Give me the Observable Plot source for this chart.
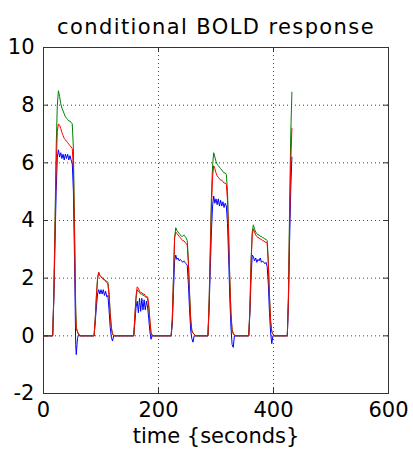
<!DOCTYPE html>
<html><head><meta charset="utf-8">
<script src="https://cdn.jsdelivr.net/npm/d3@7"></script>
<script src="https://cdn.jsdelivr.net/npm/@observablehq/plot@0.6"></script>
<style>body{margin:0;background:#fff}</style>
</head><body><div id="chart"></div>
<script>
// time points (seconds)
const time = [0,16,18,20,22,24,26,28,30,32,34,36,38,40,42,44,46,48,50,52,54,56,57,59,61,64,
  88,90,92,94,96,98,100,102,104,106,108,110,112,114,116,118,120,122,124,
  157,159,161,163,165,167,169,171,173,175,177,179,181,183,185,187,189,191,
  222,224,226,228,230,232,234,236,238,240,242,244,246,248,250,252,254,256,258,260,262,265,
  286,288,290,292,294,296,298,300,302,304,306,308,310,312,314,316,318,320,322,324,326,328,330,332,335,
  357,359,361,363,365,367,369,371,373,375,377,379,381,383,385,387,389,391,393,395,397,399,402,
  424,426,428,430,432];
const green = [0,0,1.5,4.0,6.5,8.0,8.5,8.3,8.05,7.9,7.8,7.7,7.6,7.55,7.5,7.45,7.45,7.4,7.35,6.5,3.8,1.0,0.3,0.15,0.05,0,
  0,0.6,1.4,2.0,2.2,2.1,2.05,2.0,2.0,1.95,1.9,1.9,1.85,1.5,0.8,0.3,0.08,0.02,0,
  0,0.7,1.3,1.6,1.55,1.5,1.45,1.45,1.4,1.4,1.35,1.35,1.3,1.0,0.5,0.1,0.02,0,
  0,0.6,2.0,3.4,3.75,3.65,3.6,3.55,3.5,3.45,3.45,3.5,3.45,3.4,3.3,2.6,1.5,0.6,0.2,0.1,0.05,0,
  0,1.2,3.0,4.8,5.9,6.35,6.2,6.05,5.95,5.9,5.85,5.8,5.75,5.7,5.65,5.65,5.6,5.0,3.6,2.0,0.8,0.2,0.08,0.02,0,
  0,1.0,2.6,3.6,3.85,3.7,3.6,3.55,3.5,3.5,3.45,3.45,3.4,3.4,3.35,3.35,3.3,2.6,1.4,0.5,0.15,0.05,0,
  0,1.5,4.5,7.0,8.45];
const red = [0,0,1.4,3.6,5.8,7.1,7.35,7.3,7.2,7.05,6.95,6.85,6.8,6.75,6.7,6.65,6.6,6.55,6.5,5.8,3.3,0.8,0.25,0.15,0.05,0,
  0,0.6,1.35,1.95,2.2,2.1,2.05,2.0,1.95,1.95,1.9,1.85,1.8,1.4,0.75,0.25,0.05,0.02,0,
  0,0.75,1.4,1.7,1.65,1.55,1.5,1.5,1.45,1.45,1.4,1.35,1.35,1.1,0.55,0.1,0.02,0,
  0,0.6,1.95,3.4,3.6,3.55,3.5,3.45,3.4,3.35,3.3,3.3,3.25,3.2,3.15,2.5,1.45,0.55,0.15,0.1,0.05,0,
  0,1.1,2.8,4.4,5.5,5.9,5.8,5.65,5.55,5.5,5.45,5.4,5.4,5.35,5.3,5.3,5.25,4.7,3.4,1.9,0.75,0.2,0.08,0.02,0,
  0,0.95,2.5,3.5,3.7,3.6,3.5,3.45,3.4,3.4,3.35,3.35,3.3,3.3,3.25,3.25,3.2,2.5,1.35,0.5,0.15,0.05,0,
  0,1.3,3.9,6.0,7.2];
const blue = [0,0,1.3,3.2,5.0,6.2,6.45,6.2,6.35,6.15,6.3,6.1,6.3,6.15,6.3,6.1,6.25,6.1,6.0,5.0,2.6,-0.3,-0.65,-0.1,0.05,0,
  0,0.5,1.0,1.45,1.6,1.45,1.6,1.45,1.6,1.4,1.55,1.35,1.4,0.9,0.3,-0.05,-0.18,0.0,0,
  0,0.5,1.0,1.2,0.8,1.3,0.85,1.3,0.9,1.25,0.9,1.2,1.0,0.6,0.15,-0.12,0,0,
  0,0.4,1.5,2.6,2.8,2.65,2.7,2.6,2.65,2.6,2.55,2.6,2.55,2.5,2.45,1.8,0.9,0.2,-0.1,-0.22,0.0,0,
  0,0.9,2.3,3.6,4.5,4.85,4.6,4.75,4.55,4.75,4.5,4.7,4.5,4.65,4.45,4.6,4.5,3.9,2.7,1.3,0.3,-0.3,-0.4,0.0,0,
  0,0.8,2.0,2.8,2.75,2.6,2.7,2.55,2.65,2.6,2.7,2.55,2.6,2.55,2.5,2.55,2.4,1.8,0.8,0.1,-0.27,0.0,0,
  0,1.1,3.3,5.1,6.2];

const xTicks = [0, 200, 400, 600];
const yTicks = [-2, 0, 2, 4, 6, 8, 10];
const gridXTicks = [200, 400];
const gridYTicks = [0, 2, 4, 6, 8];
const titleText = "conditional BOLD response";
const xLabelText = "time {seconds}";

const toRows = vals => time.map((t, i) => ({t, v: vals[i]}));

const W = 413, H = 455, mL = 43, mR = 25, mT = 47, mB = 62;
const innerW = W - mL - mR, innerH = H - mT - mB, tickLen = 5;

const chart = Plot.plot({
  width: W, height: H,
  marginLeft: mL, marginRight: mR, marginTop: mT, marginBottom: mB,
  style: {fontFamily: "DejaVu Sans", background: "#fff", color: "#000"},
  x: {domain: [0, 600], axis: null},
  y: {domain: [-2, 10], axis: null},
  marks: [
    Plot.gridX(gridXTicks, {stroke: "#000", strokeOpacity: 0.75, strokeDasharray: "1,3"}),
    Plot.gridY(gridYTicks, {stroke: "#000", strokeOpacity: 0.75, strokeDasharray: "1,3"}),
    Plot.line(toRows(blue), {x: "t", y: "v", stroke: "#0000ff", strokeWidth: 1}),
    Plot.line(toRows(green), {x: "t", y: "v", stroke: "#008000", strokeWidth: 1}),
    Plot.line(toRows(red), {x: "t", y: "v", stroke: "#ff0000", strokeWidth: 1}),
    Plot.tickY(yTicks, {y: d => d, insetRight: innerW - tickLen, stroke: "#333"}),
    Plot.tickY(yTicks, {y: d => d, insetLeft: innerW - tickLen, stroke: "#333"}),
    Plot.tickX(xTicks, {x: d => d, insetTop: innerH - tickLen, stroke: "#333"}),
    Plot.tickX(xTicks, {x: d => d, insetBottom: innerH - tickLen, stroke: "#333"}),
    Plot.frame({stroke: "#333"}),
    Plot.axisX(xTicks, {tickSize: 0, tickPadding: 9, fontSize: 21, label: null, tickFormat: d => String(d)}),
    Plot.axisY(yTicks, {tickSize: 0, tickPadding: 9, fontSize: 21, label: null, tickFormat: d => String(d)}),
    Plot.text([titleText], {frameAnchor: "top", dy: -28, fontSize: 21, fill: "#000"}),
    Plot.text([xLabelText], {frameAnchor: "bottom", dy: 49, fontSize: 21, fill: "#000"})
  ]
});
d3.select(chart).selectAll("text")
  .filter(function () { return this.textContent === titleText; })
  .style("letter-spacing", "1.4px");
document.getElementById("chart").append(chart);
</script>
</body></html>
